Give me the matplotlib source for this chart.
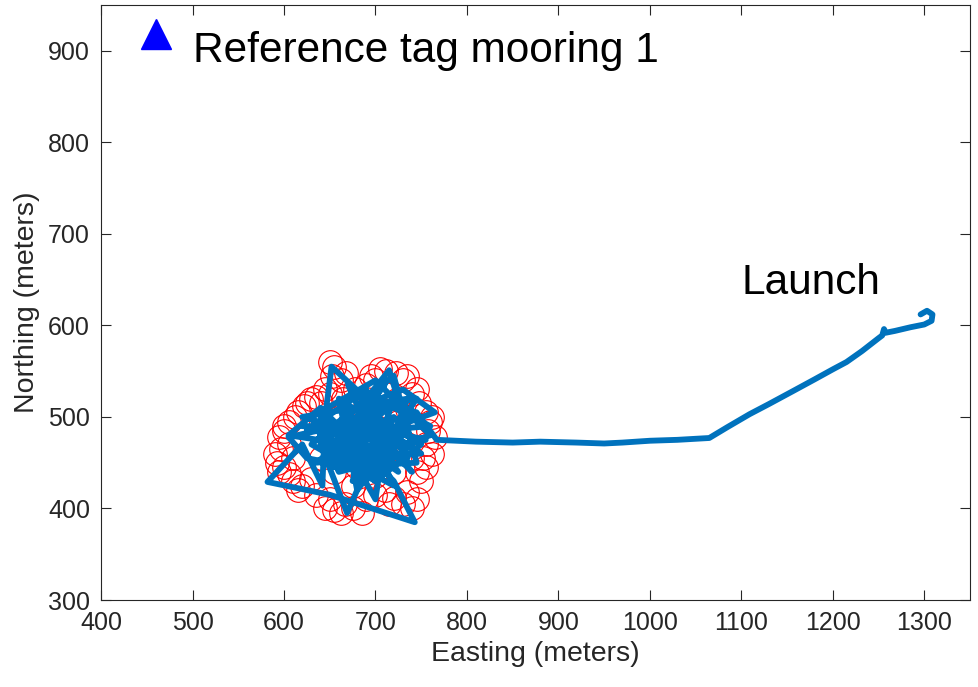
import matplotlib
matplotlib.use("Agg")
import matplotlib.pyplot as plt

# ---------------------------------------------------------------------------
# Data
# ---------------------------------------------------------------------------

ref_tag_x = [460]
ref_tag_y = [918]

# position fixes (red circles)
fix_x = [655, 652, 662, 700, 712, 722, 730, 690, 678,
         630, 622, 640, 612, 605, 650, 665,
         600, 595, 597, 605, 592, 600, 610,
         610, 620, 630, 605,
         645, 655, 662, 667, 650,
         690, 700, 710, 720, 730, 740, 735,
         745, 752, 755, 758, 760, 755, 748, 740, 750,
         680, 690, 700, 710, 670, 660, 680, 700, 720, 715, 725, 735,
         650, 640, 660, 690, 705, 725, 640, 655, 675, 700, 720, 740,
         615, 625, 635, 645, 600, 590, 595, 615, 635, 675, 685, 715,
         745, 755, 762, 765, 762, 745, 735, 705, 695, 668, 650]
fix_y = [555, 545, 540, 540, 550, 548, 540, 535, 530,
         520, 512, 515, 500, 495, 525, 520,
         485, 478, 465, 470, 450, 445, 455,
         430, 425, 432, 438,
         400, 398, 395, 405, 410,
         410, 415, 420, 412, 405, 400, 418,
         440, 455, 470, 485, 495, 505, 515, 525, 430,
         480, 470, 490, 500, 455, 470, 445, 455, 465, 480, 495, 470,
         480, 495, 500, 505, 520, 520, 455, 440, 425, 435, 440, 455,
         505, 515, 522, 530, 490, 460, 440, 420, 415, 400, 395, 405,
         410, 445, 460, 478, 500, 530, 545, 552, 545, 548, 560]

# glider track, from launch towards the mooring
track_x = [1296, 1303, 1309, 1308, 1300, 1285, 1268, 1258, 1256, 1254, 1250,
           1232, 1215, 1200, 1180, 1156, 1130, 1109, 1085, 1065,
           1030, 1000, 970, 950, 920, 880, 850, 810, 767,
           745, 710, 660, 605, 625, 700, 740, 715, 690, 652, 645, 642,
           620, 582, 650, 743, 720, 690, 640, 605, 670, 765, 730, 680,
           640, 669, 680, 700, 720, 700, 660, 630, 700, 760, 700, 650,
           690, 740, 710, 670, 720, 690, 640, 700, 750, 700, 660, 690,
           620, 735, 700, 630, 720, 745, 650, 700, 760, 640, 710, 690,
           625, 740, 680, 660, 750, 635, 715, 700, 655, 730, 670, 720,
           645, 735, 690, 665, 745, 705, 640, 725, 680, 710, 650, 755,
           690, 620, 720, 675, 700, 735, 660, 710, 685]
track_y = [612, 616, 612, 605, 601, 598, 594, 592, 596, 589, 586,
           572, 560, 552, 541, 528, 514, 503, 489, 477,
           475, 474, 472, 471, 472, 473, 472, 473, 475,
           505, 515, 490, 478, 455, 440, 470, 551, 520, 555, 500, 425,
           470, 429, 415, 385, 430, 460, 510, 480, 470, 505, 530, 510,
           470, 395, 420, 480, 500, 450, 440, 500, 540, 480, 460, 470,
           500, 440, 470, 485, 520, 430, 490, 500, 470, 430, 460, 480,
           500, 520, 430, 470, 545, 450, 445, 520, 490, 480, 440, 530,
           485, 500, 420, 520, 460, 450, 510, 410, 490, 470, 535, 425,
           465, 485, 445, 505, 520, 460, 500, 440, 500, 535, 455, 475,
           490, 490, 480, 430, 505, 455, 475, 490, 455]

# ---------------------------------------------------------------------------
# Plot
# ---------------------------------------------------------------------------

plt.rcParams["font.family"] = ["Liberation Sans", "DejaVu Sans"]
axis_color = "#262626"

fig = plt.figure(figsize=(9.79, 6.87), dpi=100)
ax = fig.add_axes([0.1032, 0.1266, 0.8876, 0.8661])

ax.plot(fix_x, fix_y, "o", ms=17, mfc="none", mec="red", mew=0.8, zorder=2)
ax.plot(track_x, track_y, "-", color="#0072BD", lw=4.2,
        solid_joinstyle="round", solid_capstyle="round", zorder=3)
ax.plot(ref_tag_x, ref_tag_y, "^", ms=22, color="blue", mec="blue", zorder=4)

ax.text(500, 900, "Reference tag mooring 1", fontsize=30.5, va="center", ha="left")
ax.text(1100, 646, "Launch", fontsize=30.5, va="center", ha="left")

ax.set_xlim(400, 1350)
ax.set_ylim(300, 950)
ax.set_xticks(range(400, 1301, 100))
ax.set_yticks(range(300, 901, 100))
ax.tick_params(direction="in", length=7, width=0.8, colors=axis_color,
               labelsize=18, top=True, right=True, pad=8)
for side in ax.spines.values():
    side.set_color(axis_color)
    side.set_linewidth(0.8)

ax.set_xlabel("Easting (meters)", fontsize=20.5, color=axis_color, labelpad=4)
ax.set_ylabel("Northing (meters)", fontsize=20.5, color=axis_color, labelpad=6)

fig.savefig("out.png", dpi=100)
plt.close()
